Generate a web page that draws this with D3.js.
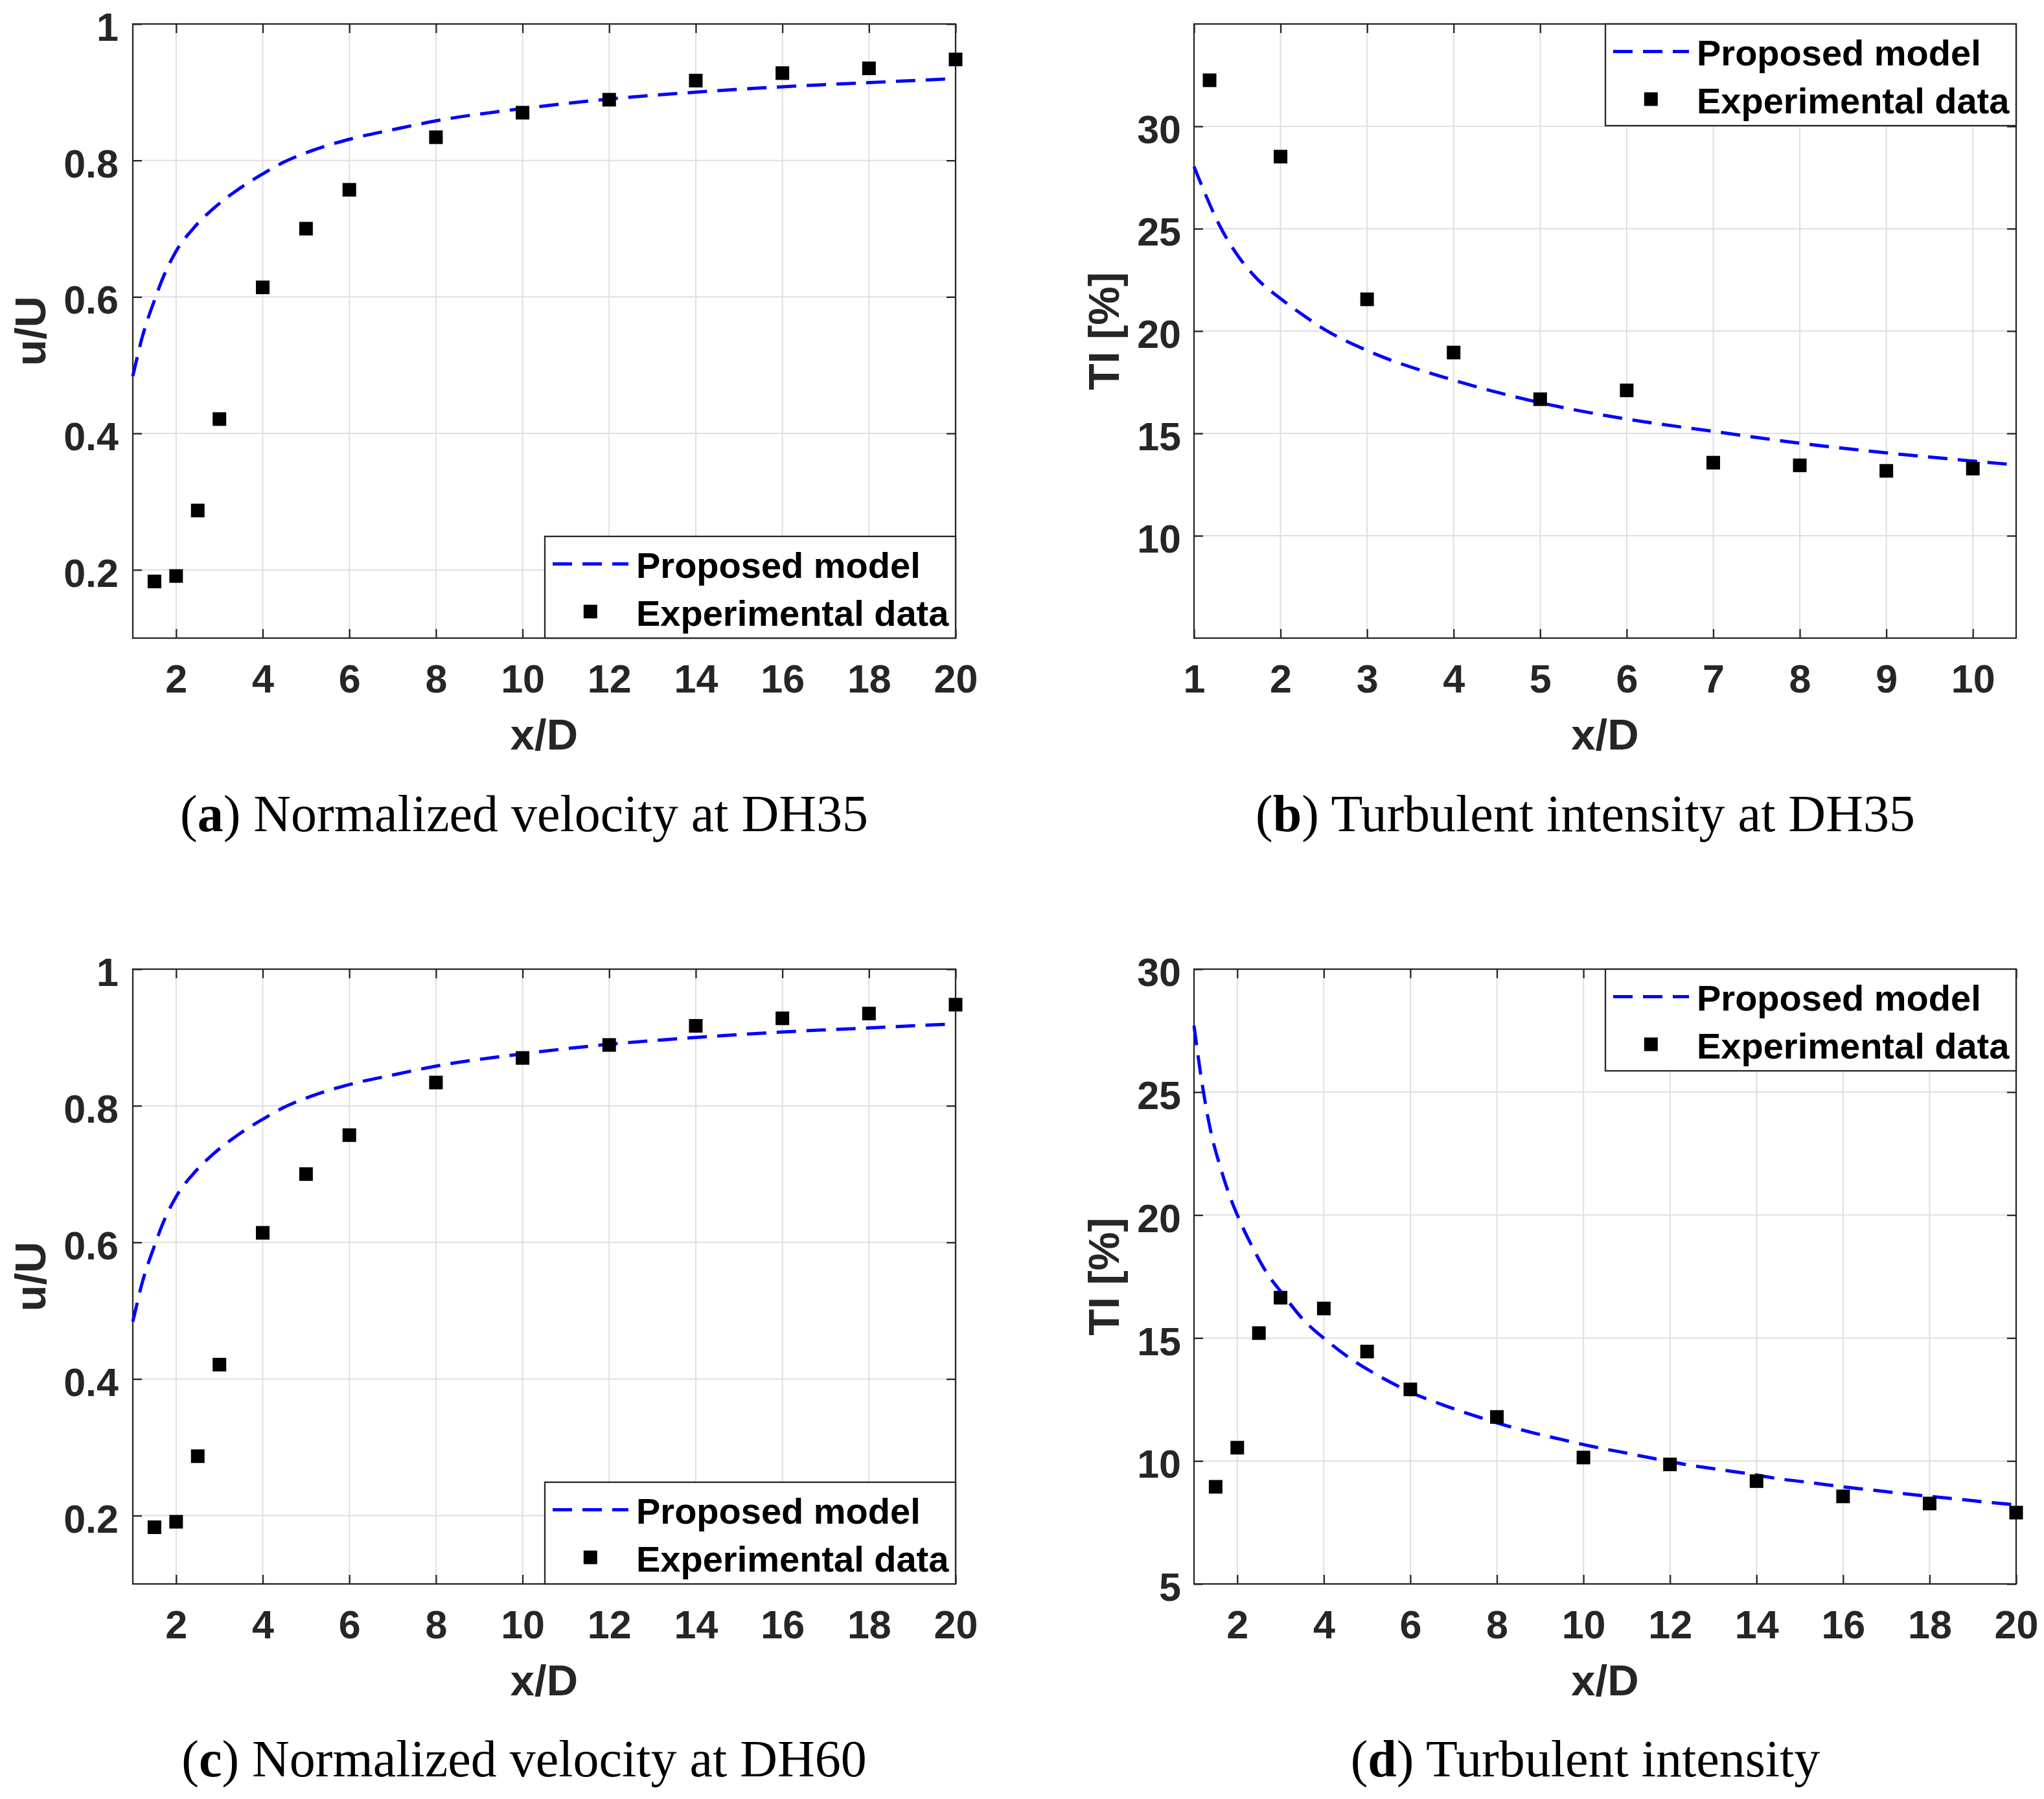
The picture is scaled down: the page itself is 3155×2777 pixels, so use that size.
<!DOCTYPE html>
<html>
<head>
<meta charset="utf-8">
<script src="https://cdn.jsdelivr.net/npm/d3@7"></script>
<style>
  body { margin: 0; background: #fff; }
</style>
</head>
<body>
<svg id="fig" width="3155" height="2777"></svg>
<script>
// ---- data ----

// (a) normalized velocity at DH35
var velX35 = [1.5, 2, 2.5, 3, 4, 5, 6, 8, 10, 12, 14, 16, 18, 20];
var velExp35 = [0.183, 0.191, 0.287, 0.421, 0.614, 0.700, 0.757, 0.834, 0.870, 0.889, 0.917, 0.928, 0.935, 0.948];
var velModelX35 = [1, 1.07, 1.2, 1.37, 1.5, 1.67, 2, 2.42, 2.87, 3.42, 4.02, 4.47, 5.12, 6, 7, 8, 10, 12, 14, 16, 18, 20];
var velModel35 = [0.484, 0.503, 0.537, 0.572, 0.595, 0.624, 0.667, 0.702, 0.730, 0.757, 0.781, 0.797, 0.814, 0.831, 0.845, 0.858, 0.876, 0.890, 0.900, 0.908, 0.914, 0.920];

// (c) normalized velocity at DH60
var velX60 = [1.5, 2, 2.5, 3, 4, 5, 6, 8, 10, 12, 14, 16, 18, 20];
var velExp60 = [0.183, 0.191, 0.287, 0.421, 0.614, 0.700, 0.757, 0.834, 0.870, 0.889, 0.917, 0.928, 0.935, 0.948];
var velModelX60 = [1, 1.07, 1.2, 1.37, 1.5, 1.67, 2, 2.42, 2.87, 3.42, 4.02, 4.47, 5.12, 6, 7, 8, 10, 12, 14, 16, 18, 20];
var velModel60 = [0.484, 0.503, 0.537, 0.572, 0.595, 0.624, 0.667, 0.702, 0.730, 0.757, 0.781, 0.797, 0.814, 0.831, 0.845, 0.858, 0.876, 0.890, 0.900, 0.908, 0.914, 0.920];

// (b) turbulent intensity at DH35
var tiX35 = [1.18, 2, 3, 4, 5, 6, 7, 8, 9, 10];
var tiExp35 = [32.25, 28.52, 21.55, 18.95, 16.67, 17.10, 13.57, 13.44, 13.17, 13.28];
var tiModelX35 = [1, 1.1, 1.29, 1.52, 1.74, 2.01, 2.27, 2.5, 3, 4, 5, 6, 7, 8, 9, 10, 10.5];
var tiModel35 = [28.03, 27.0, 25.2, 23.6, 22.5, 21.55, 20.75, 20.1, 19.05, 17.6, 16.5, 15.7, 15.1, 14.52, 14.05, 13.65, 13.46];

// (d) turbulent intensity
var tiX = [1.5, 2, 2.5, 3, 4, 5, 6, 8, 10, 12, 14, 16, 18, 20];
var tiExp = [8.95, 10.54, 15.2, 16.64, 16.2, 14.45, 12.91, 11.79, 10.14, 9.86, 9.18, 8.56, 8.27, 7.9];
var tiModelX = [1, 1.2, 1.4, 1.6, 1.8, 2.05, 2.35, 2.7, 3, 3.55, 4.1, 4.65, 5.25, 6, 6.8, 7.45, 8, 8.8, 9.5, 10.2,
                10.85, 11.6, 12.45, 13.15, 13.85, 14.5, 15.2, 15.9, 16.6, 17.3, 18, 18.7, 19.4, 20];
var tiModel = [27.7, 25.2, 23.3, 22.0, 20.9, 19.8, 18.7, 17.6, 16.9, 15.7, 14.85, 14.12, 13.48, 12.8, 12.25, 11.86, 11.55, 11.16, 10.87, 10.59,
               10.37, 10.11, 9.83, 9.65, 9.47, 9.28, 9.13, 8.97, 8.83, 8.69, 8.56, 8.44, 8.31, 8.22];

// ticks
var ticksX20 = [2, 4, 6, 8, 10, 12, 14, 16, 18, 20];
var ticksX10 = [1, 2, 3, 4, 5, 6, 7, 8, 9, 10];
var ticksVelY = [0.2, 0.4, 0.6, 0.8, 1];
var ticksTi35Y = [10, 15, 20, 25, 30];
var ticksTiY = [5, 10, 15, 20, 25, 30];

var legendLabels = ["Proposed model", "Experimental data"];

// ---- drawing ----
var svg = d3.select("#fig");
var sansFont = "'Liberation Sans', Arial, Helvetica, sans-serif";
var serifFont = "'Liberation Serif', 'Times New Roman', serif";
var axisColor = "#262626";
var tickLen = 14;

function zip(a, b) {
  return a.map(function(d, i) { return [d, b[i]]; });
}

function styleAxis(sel, withText) {
  sel.attr("font-size", null).attr("font-family", null);
  sel.select(".domain").remove();
  sel.selectAll(".tick line").attr("stroke", axisColor).attr("stroke-width", 2.3);
  if (withText) {
    sel.selectAll(".tick text")
      .attr("fill", axisColor)
      .style("font-family", sansFont)
      .style("font-weight", "bold")
      .style("font-size", "61px");
  }
}

function drawPanel(p) {
  var w = p.width, h = p.height;
  var g = svg.append("g").attr("transform", "translate(" + p.left + "," + p.top + ")");
  var x = d3.scaleLinear().domain(p.xDomain).range([0, w]);
  var y = d3.scaleLinear().domain(p.yDomain).range([h, 0]);

  // grid
  g.append("g").selectAll("line").data(p.xTicks).join("line")
    .attr("x1", function(d) { return x(d); }).attr("x2", function(d) { return x(d); })
    .attr("y1", 0).attr("y2", h)
    .attr("stroke", "#dfdfdf").attr("stroke-width", 2);
  g.append("g").selectAll("line").data(p.yTicks).join("line")
    .attr("x1", 0).attr("x2", w)
    .attr("y1", function(d) { return y(d); }).attr("y2", function(d) { return y(d); })
    .attr("stroke", "#dfdfdf").attr("stroke-width", 2);

  // axes, ticks pointing inward on all four sides
  var fmt = function(d) { return String(d); };
  g.append("g").attr("transform", "translate(0," + h + ")")
    .call(d3.axisBottom(x).tickValues(p.xTicks).tickSize(-tickLen).tickPadding(41).tickFormat(fmt))
    .call(styleAxis, true);
  g.append("g")
    .call(d3.axisLeft(y).tickValues(p.yTicks).tickSize(-tickLen).tickPadding(p.yPad).tickFormat(fmt))
    .call(styleAxis, true)
    .selectAll(".tick text").attr("dy", "0.42em");
  g.append("g")
    .call(d3.axisTop(x).tickValues(p.xTicks).tickSize(-tickLen).tickFormat(""))
    .call(styleAxis, false);
  g.append("g").attr("transform", "translate(" + w + ",0)")
    .call(d3.axisRight(y).tickValues(p.yTicks).tickSize(-tickLen).tickFormat(""))
    .call(styleAxis, false);

  g.append("rect").attr("width", w).attr("height", h)
    .attr("fill", "none").attr("stroke", axisColor).attr("stroke-width", 2.3);

  // axis labels
  g.append("text")
    .attr("x", w / 2).attr("y", h + 172)
    .attr("text-anchor", "middle")
    .attr("fill", axisColor)
    .style("font-family", sansFont).style("font-weight", "bold").style("font-size", "67px")
    .text("x/D");
  g.append("text")
    .attr("transform", "translate(" + p.yLabelX + "," + (h / 2) + ") rotate(-90)")
    .attr("text-anchor", "middle")
    .attr("fill", axisColor)
    .style("font-family", sansFont).style("font-weight", "bold").style("font-size", "67px")
    .text(p.yLabel);

  // model curve
  var line = d3.line()
    .x(function(d) { return x(d[0]); })
    .y(function(d) { return y(d[1]); })
    .curve(d3.curveMonotoneX);
  g.append("path")
    .datum(zip(p.modelX, p.model))
    .attr("d", line)
    .attr("fill", "none")
    .attr("stroke", "#0000ff")
    .attr("stroke-width", 5)
    .attr("stroke-dasharray", "30,16");

  // experimental points
  var ms = 21;
  g.append("g").selectAll("rect").data(zip(p.expX, p.exp)).join("rect")
    .attr("x", function(d) { return x(d[0]) - ms / 2; })
    .attr("y", function(d) { return y(d[1]) - ms / 2; })
    .attr("width", ms).attr("height", ms)
    .attr("fill", "#000");

  // legend
  var lw = 634, lh = 157;
  var lx = w - lw, ly = p.legendTop ? 0 : h - lh;
  var lg = g.append("g").attr("transform", "translate(" + lx + "," + ly + ")");
  lg.append("rect").attr("width", lw).attr("height", lh)
    .attr("fill", "#fff").attr("stroke", axisColor).attr("stroke-width", 2.3);
  lg.append("line")
    .attr("x1", 12).attr("x2", 129).attr("y1", 42.6).attr("y2", 42.6)
    .attr("stroke", "#0000ff").attr("stroke-width", 5).attr("stroke-dasharray", "30,16");
  lg.append("rect")
    .attr("x", 70.3 - ms / 2).attr("y", 116 - ms / 2).attr("width", ms).attr("height", ms)
    .attr("fill", "#000");
  lg.selectAll("text.lab").data(legendLabels).join("text")
    .attr("class", "lab")
    .attr("x", 141)
    .attr("y", function(d, i) { return i === 0 ? 64.3 : 138.3; })
    .attr("fill", "#000")
    .style("font-family", sansFont).style("font-weight", "bold").style("font-size", "56px")
    .text(function(d) { return d; });

  // caption below the panel
  var cap = svg.append("text")
    .attr("x", p.capX).attr("y", p.capY)
    .attr("text-anchor", "middle")
    .attr("fill", "#000")
    .style("font-family", serifFont).style("font-size", "80px");
  cap.append("tspan").text("(");
  cap.append("tspan").style("font-weight", "bold").text(p.capLetter);
  cap.append("tspan").text(") " + p.capText);
}

drawPanel({
  left: 205, top: 37, width: 1270, height: 948,
  xDomain: [1, 20], yDomain: [0.1, 1], xTicks: ticksX20, yTicks: ticksVelY, yPad: 22,
  yLabel: "u/U", yLabelX: -135,
  expX: velX35, exp: velExp35, modelX: velModelX35, model: velModel35,
  legendTop: false,
  capX: 809, capY: 1283, capLetter: "a", capText: "Normalized velocity at DH35"
});

drawPanel({
  left: 1843, top: 37, width: 1269, height: 948,
  xDomain: [1, 10.5], yDomain: [5, 35], xTicks: ticksX10, yTicks: ticksTi35Y, yPad: 20,
  yLabel: "TI [%]", yLabelX: -116,
  expX: tiX35, exp: tiExp35, modelX: tiModelX35, model: tiModel35,
  legendTop: true,
  capX: 2447, capY: 1283, capLetter: "b", capText: "Turbulent intensity at DH35"
});

drawPanel({
  left: 205, top: 1496, width: 1270, height: 949,
  xDomain: [1, 20], yDomain: [0.1, 1], xTicks: ticksX20, yTicks: ticksVelY, yPad: 22,
  yLabel: "u/U", yLabelX: -135,
  expX: velX60, exp: velExp60, modelX: velModelX60, model: velModel60,
  legendTop: false,
  capX: 809, capY: 2742, capLetter: "c", capText: "Normalized velocity at DH60"
});

drawPanel({
  left: 1843, top: 1496, width: 1269, height: 949,
  xDomain: [1, 20], yDomain: [5, 30], xTicks: ticksX20, yTicks: ticksTiY, yPad: 20,
  yLabel: "TI [%]", yLabelX: -116,
  expX: tiX, exp: tiExp, modelX: tiModelX, model: tiModel,
  legendTop: true,
  capX: 2447, capY: 2742, capLetter: "d", capText: "Turbulent intensity"
});
</script>
</body>
</html>
